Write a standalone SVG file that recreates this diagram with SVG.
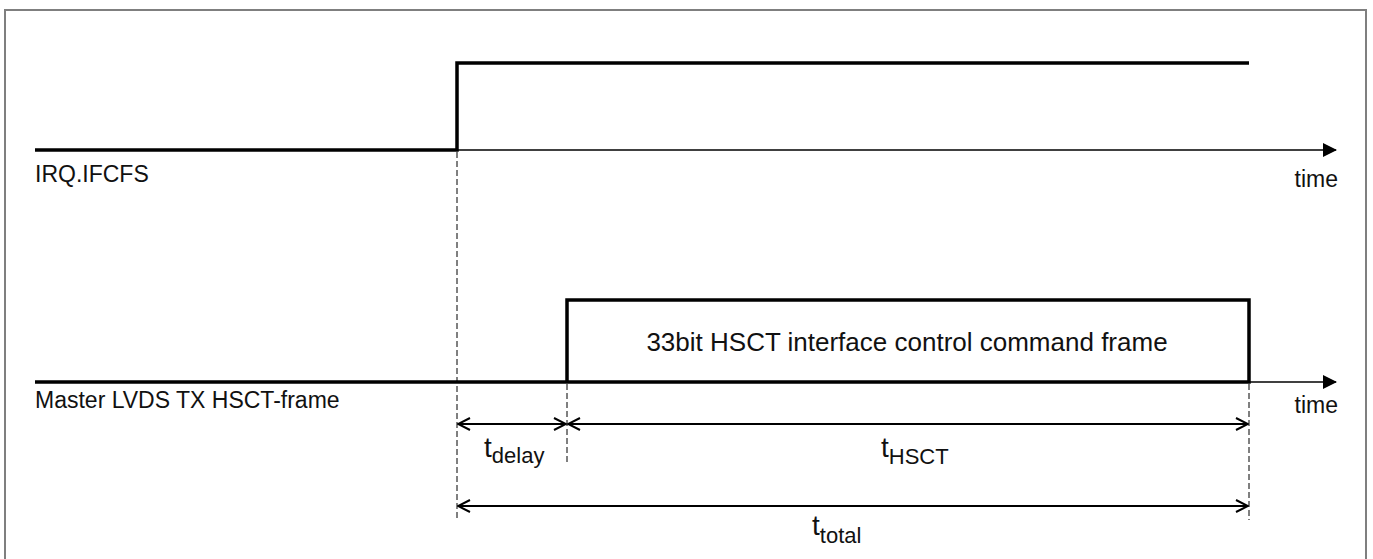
<svg xmlns="http://www.w3.org/2000/svg" width="1373" height="559" viewBox="0 0 1373 559">
  <style>
    .sig { fill: none; stroke: #000; stroke-width: 3.5; stroke-linejoin: miter; stroke-linecap: butt; }
    .axis { fill: none; stroke: #000; stroke-width: 1.5; }
    .dash { fill: none; stroke: #000; stroke-width: 1; stroke-dasharray: 6 3; }
    .dim { fill: none; stroke: #000; stroke-width: 2; }
    .lbl { font-family: "Liberation Sans", Arial, sans-serif; font-size: 23px; fill: #111; }
    .box { font-family: "Liberation Sans", Arial, sans-serif; font-size: 26px; fill: #111; }
    .t { font-family: "Liberation Sans", Arial, sans-serif; font-size: 28px; fill: #111; }
    .sub { font-size: 22px; }
  </style>
  <defs>
    <marker id="tri" markerWidth="14" markerHeight="14" refX="13" refY="7" orient="auto" markerUnits="userSpaceOnUse">
      <path d="M0,0 L14,7 L0,14 Z" fill="#000"/>
    </marker>
    <marker id="open" markerWidth="14" markerHeight="14" refX="13" refY="7" orient="auto-start-reverse" markerUnits="userSpaceOnUse">
      <path d="M1,1 L13,7 L1,13" fill="none" stroke="#000" stroke-width="2"/>
    </marker>
  </defs>

  <rect x="5" y="10" width="1361" height="565" fill="#fff" stroke="#7f7f7f" stroke-width="2"/>

  <g id="irq">
    <polyline class="sig" points="35,150 457,150 457,63 1249,63"/>
    <text class="lbl" x="35" y="182">IRQ.IFCFS</text>
    <text class="lbl" x="1338" y="187" text-anchor="end">time</text>
  </g>

  <g id="hsct">
    <polyline class="sig" points="35,382 567,382 567,300 1249,300 1249,382 567,382"/>
    <text class="box" x="907" y="351" text-anchor="middle">33bit HSCT interface control command frame</text>
    <text class="lbl" x="35" y="408">Master LVDS TX HSCT-frame</text>
    <text class="lbl" x="1338" y="413" text-anchor="end">time</text>
  </g>

  <g id="connectors">
    <line class="axis" x1="457" y1="150" x2="1336" y2="150" marker-end="url(#tri)"/>
    <line class="axis" x1="1249" y1="382" x2="1336" y2="382" marker-end="url(#tri)"/>
    <line class="dash" x1="457" y1="152" x2="457" y2="520"/>
    <line class="dash" x1="567" y1="384" x2="567" y2="464"/>
    <line class="dash" x1="1249" y1="384" x2="1249" y2="520"/>
    <line class="dim" x1="458" y1="424" x2="566" y2="424" marker-start="url(#open)" marker-end="url(#open)"/>
    <line class="dim" x1="568" y1="424" x2="1248" y2="424" marker-start="url(#open)" marker-end="url(#open)"/>
    <line class="dim" x1="458" y1="506" x2="1248" y2="506" marker-start="url(#open)" marker-end="url(#open)"/>
  </g>

  <g id="labels">
    <text class="t" x="484" y="457">t<tspan class="sub" dy="6">delay</tspan></text>
    <text class="t" x="881" y="457">t<tspan class="sub" dy="7">HSCT</tspan></text>
    <text class="t" x="812" y="535">t<tspan class="sub" dy="8">total</tspan></text>
  </g>
</svg>
